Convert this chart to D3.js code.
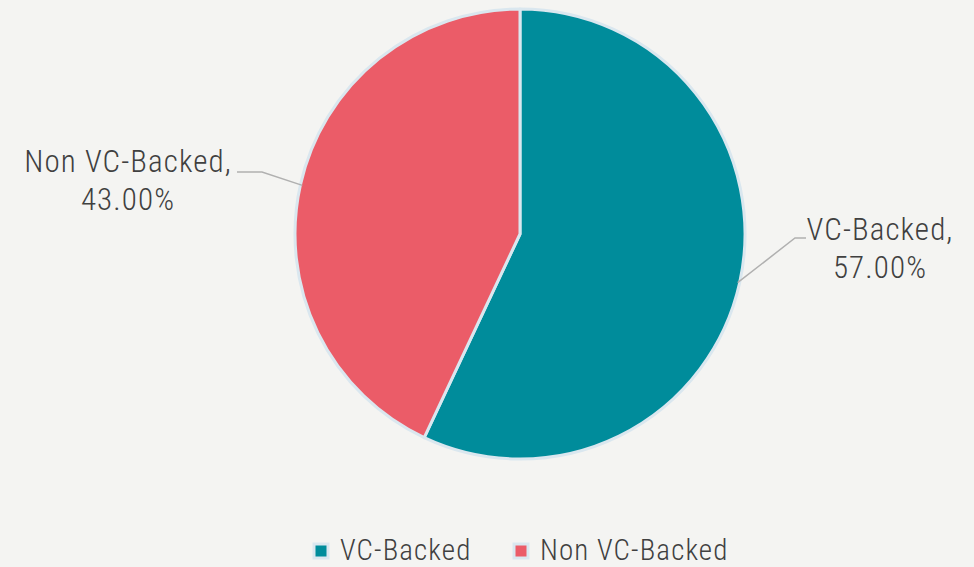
<!DOCTYPE html>
<html>
<head>
<meta charset="utf-8">
<script src="https://cdn.jsdelivr.net/npm/d3@7"></script>
<style>
  body { margin: 0; background: #f4f4f2; }
  svg { display: block; }
  text { font-family: "Roboto Condensed", "Liberation Sans Narrow", "Liberation Sans", sans-serif; font-weight: 300; fill: #404040; letter-spacing: 1.1px; }
</style>
</head>
<body>
<script>
// data
var categories = ['VC-Backed', 'Non VC-Backed'];
var shares = [57.0, 43.0];
var colours = ['#008c9b', '#eb5c68'];

var W = 974, H = 567;
var cx = 520, cy = 234, R = 225;

var svg = d3.select('body').append('svg')
    .attr('width', W)
    .attr('height', H);

svg.append('rect').attr('width', W).attr('height', H).attr('fill', '#f4f4f2');

var data = categories.map(function (c, i) {
    return { name: c, value: shares[i], colour: colours[i] };
});

var pie = d3.pie().sort(null).value(function (d) { return d.value; });
var arc = d3.arc().innerRadius(0).outerRadius(R);

var g = svg.append('g').attr('transform', 'translate(' + cx + ',' + cy + ')');

var arcs = pie(data);

g.selectAll('path')
    .data(arcs)
    .enter().append('path')
    .attr('d', arc)
    .attr('fill', function (d) { return d.data.colour; })
    .attr('stroke', '#dae7ef')
    .attr('stroke-width', 3)
    .attr('stroke-linejoin', 'round');

// labels with leader lines (positions placed by hand like the original)
var labelPos = [
    { x: 880, y: 240, line: [[795, 238], [806, 238]] },
    { x: 128, y: 172, line: [[262, 172], [237, 172]] }
];
var fmt = d3.format('.2f');

arcs.forEach(function (d, i) {
    var mid = (d.startAngle + d.endAngle) / 2;
    var edge = [cx + Math.sin(mid) * (R - 2), cy - Math.cos(mid) * (R - 2)];
    var p = labelPos[i];
    svg.append('polyline')
        .attr('points', [edge, p.line[0], p.line[1]].map(function (q) { return q.join(','); }).join(' '))
        .attr('fill', 'none')
        .attr('stroke', '#b0b0b0')
        .attr('stroke-width', 1.5);
    var t = svg.append('text')
        .attr('x', p.x)
        .attr('y', p.y)
        .attr('text-anchor', 'middle')
        .attr('font-size', 31);
    t.append('tspan').attr('x', p.x).text(d.data.name + ',');
    t.append('tspan').attr('x', p.x).attr('dy', 38).text(fmt(d.data.value) + '%');
});

// legend
var legendItems = [
    { x: 314, name: categories[0], colour: colours[0] },
    { x: 514, name: categories[1], colour: colours[1] }
];
var lg = svg.append('g');
legendItems.forEach(function (it) {
    lg.append('rect')
        .attr('x', it.x)
        .attr('y', 544)
        .attr('width', 14)
        .attr('height', 14)
        .attr('fill', it.colour)
        .attr('stroke', '#dae7ef')
        .attr('stroke-width', 3);
    lg.append('text')
        .attr('x', it.x + 26)
        .attr('y', 560)
        .attr('font-size', 29)
        .text(it.name);
});
</script>
</body>
</html>
